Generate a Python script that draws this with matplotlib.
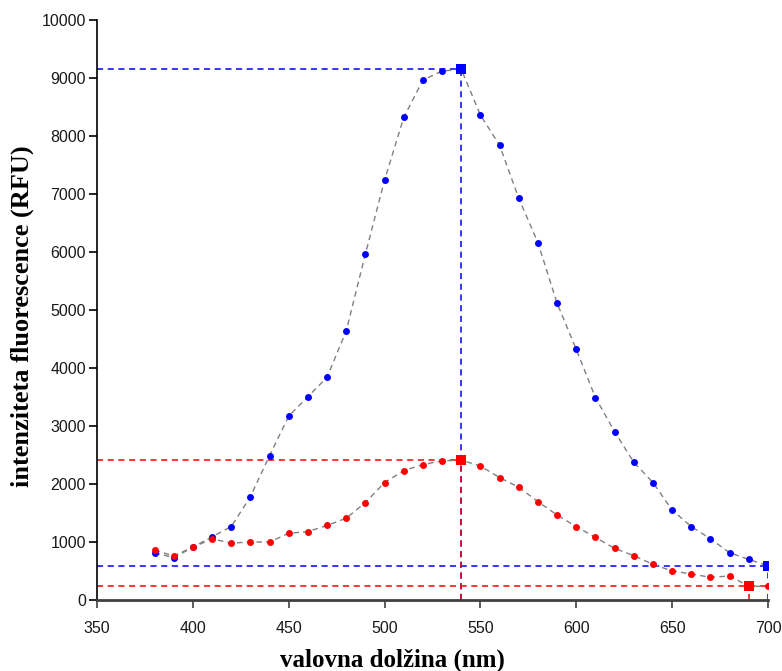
import matplotlib
matplotlib.use("Agg")
import matplotlib.pyplot as plt

# Emission wavelengths (nm)
wavelength = [380, 390, 400, 410, 420, 430, 440, 450, 460, 470, 480, 490, 500, 510,
              520, 530, 540, 550, 560, 570, 580, 590, 600, 610, 620, 630, 640, 650,
              660, 670, 680, 690, 700]

# Fluorescence intensity (RFU)
blue_rfu = [815, 730, 910, 1090, 1265, 1780, 2490, 3170, 3505, 3840, 4640, 5965,
            7240, 8320, 8965, 9120, 9150, 8360, 7840, 6925, 6160, 5115, 4320, 3490,
            2900, 2375, 2025, 1550, 1265, 1055, 815, 700, 590]
red_rfu = [860, 760, 910, 1055, 980, 1000, 1000, 1150, 1180, 1285, 1410, 1680,
           2025, 2230, 2335, 2400, 2410, 2310, 2110, 1945, 1695, 1465, 1265, 1080,
           890, 765, 615, 500, 450, 390, 415, 236, 236]

# Reference levels: (wavelength, intensity) of the marked points
blue_max = (540, 9150)
blue_end = (700, 590)
red_max = (540, 2410)
red_end = (690, 236)

x_ticks = [350, 400, 450, 500, 550, 600, 650, 700]
y_ticks = [0, 1000, 2000, 3000, 4000, 5000, 6000, 7000, 8000, 9000, 10000]

fig = plt.figure(figsize=(7.82, 6.71), dpi=100)
ax = fig.add_axes([97 / 782, 71 / 671, 671 / 782, 580 / 671])

xmin, xmax = 350, 700
blue_c = "#0000ff"
red_c = "#ff0000"
dash = dict(linestyle=(0, (4, 3)), linewidth=1.1)


def guide(x, y, color, full=False):
    # horizontal line from the left axis, vertical line down to zero
    x_end = xmax if full else x
    ax.plot([xmin, x_end], [y, y], color=color, zorder=2, **dash)
    ax.plot([x, x], [0, y], color=color, zorder=2, **dash)


guide(*blue_max, blue_c)
guide(*blue_end, blue_c, full=True)
guide(*red_max, red_c)
guide(*red_end, red_c, full=True)

for ys, col in ((blue_rfu, blue_c), (red_rfu, red_c)):
    ax.plot(wavelength, ys, color="#808080", linestyle=(0, (4, 3)),
            linewidth=1.0, zorder=3)
    ax.plot(wavelength, ys, linestyle="none", marker="o", markersize=5,
            color=col, markeredgewidth=0, zorder=4)

for (x, y), col in ((blue_max, blue_c), (blue_end, blue_c),
                    (red_max, red_c), (red_end, red_c)):
    ax.plot([x], [y], linestyle="none", marker="s", markersize=6.5,
            color=col, markeredgewidth=0, zorder=5)

ax.set_xlim(xmin, xmax)
ax.set_ylim(0, 10000)
ax.set_xticks(x_ticks)
ax.set_yticks(y_ticks)

for side in ("top", "right"):
    ax.spines[side].set_visible(False)
ax.spines["left"].set_color("black")
ax.spines["left"].set_linewidth(1.2)
ax.spines["bottom"].set_color("#404040")
ax.spines["bottom"].set_linewidth(2.0)

ax.tick_params(axis="both", direction="out", length=6, width=1.2,
               labelsize=11.5, labelcolor="#1a1a1a")
ax.tick_params(axis="y", pad=2)
ax.tick_params(axis="x", pad=9, colors="#404040", labelcolor="#1a1a1a")
for lbl in ax.get_xticklabels() + ax.get_yticklabels():
    lbl.set_family("Liberation Sans")

fig.text(392 / 782, (671 - 660) / 671, "valovna dolžina (nm)",
         family="Liberation Serif", fontweight="bold", fontsize=18,
         ha="center", va="center")
fig.text(22 / 782, (671 - 316) / 671, "intenziteta fluorescence (RFU)",
         family="Liberation Serif", fontweight="bold", fontsize=19,
         ha="center", va="center", rotation=90)

fig.savefig("out.png", dpi=100)
